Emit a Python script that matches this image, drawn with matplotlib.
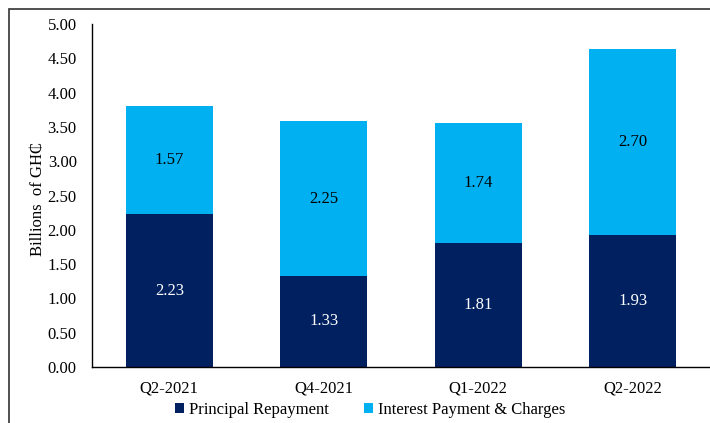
import matplotlib
matplotlib.use("Agg")
import matplotlib.pyplot as plt
from matplotlib.patches import Rectangle
import numpy as np

# Data
quarters = ["Q2-2021", "Q4-2021", "Q1-2022", "Q2-2022"]
principal = [2.23, 1.33, 1.81, 1.93]
interest = [1.57, 2.25, 1.74, 2.70]
y_ticks = [0.0, 0.5, 1.0, 1.5, 2.0, 2.5, 3.0, 3.5, 4.0, 4.5, 5.0]

navy = "#002060"
sky = "#00B0F0"

plt.rcParams['font.family'] = ['Liberation Serif', 'DejaVu Serif']
plt.rcParams['font.size'] = 12

fig = plt.figure(figsize=(7.1, 4.23), dpi=100)
ax = fig.add_axes([92 / 710, 1 - 367 / 423, 1 - 92 / 710, (367 - 24) / 423])

x = np.arange(len(quarters))
bar_w = 0.56
ax.bar(x, principal, width=bar_w, color=navy, label="Principal Repayment")
ax.bar(x, interest, width=bar_w, bottom=principal, color=sky,
       label="Interest Payment & Charges")

# Value labels
for i in range(len(quarters)):
    ax.text(x[i], principal[i] / 2, f"{principal[i]:.2f}", ha="center",
            va="center", color="white", fontsize=12)
    ax.text(x[i], principal[i] + interest[i] / 2, f"{interest[i]:.2f}",
            ha="center", va="center", color="black", fontsize=12)

ax.set_xlim(-0.5, len(quarters) - 0.5)
ax.set_ylim(0, 5)
ax.set_yticks(y_ticks)
ax.set_yticklabels([f"{v:.2f}" for v in y_ticks])
ax.set_xticks(x)
ax.set_xticklabels(quarters)
ax.tick_params(axis="both", length=0, labelsize=12)
ax.tick_params(axis="y", pad=11)
ax.tick_params(axis="x", pad=10)

for side in ["top", "right"]:
    ax.spines[side].set_visible(False)
ax.spines["left"].set_color("black")
ax.spines["bottom"].set_color("black")
ax.spines["left"].set_linewidth(1.0)
ax.spines["bottom"].set_linewidth(1.0)

ax.set_ylabel("Billions  of GH\u20b5", fontsize=12)
ax.yaxis.set_label_coords(-0.074, 0.49)

ax.legend(loc="center", bbox_to_anchor=(370 / 710, 1 - 410 / 423),
          bbox_transform=fig.transFigure, ncol=2, frameon=False,
          handlelength=0.55, handleheight=0.55, handletextpad=0.3,
          columnspacing=2.1, fontsize=12)

# Figure frame (partly cropped in the original)
fig.patches.append(Rectangle((9 / 710, -0.1), 1.2, 1 - 9 / 423 + 0.1,
                             transform=fig.transFigure, fill=False,
                             edgecolor="#333333", linewidth=1.2))

fig.savefig("out.png", dpi=100)
